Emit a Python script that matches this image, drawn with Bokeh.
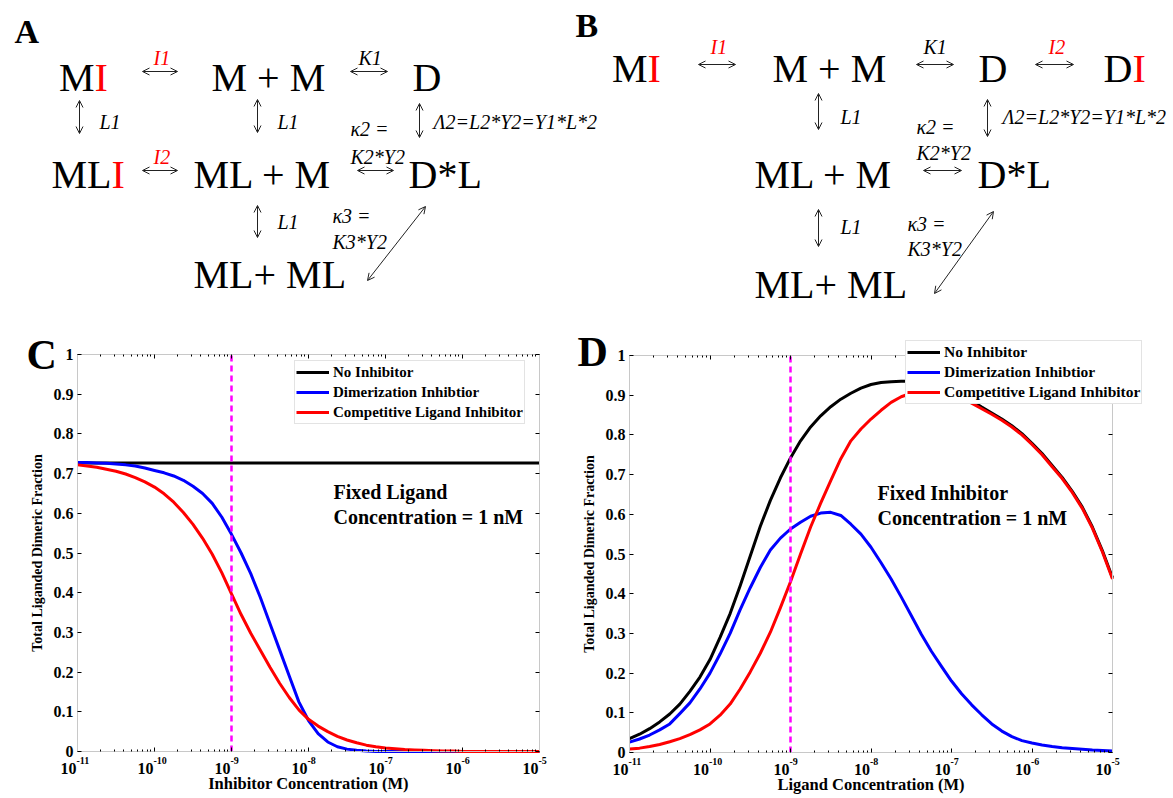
from bokeh.plotting import figure
from bokeh.models import (Range1d, Arrow, OpenHead, Label, Legend, LegendItem,
                          FixedTicker, LinearAxis, LogAxis)
from bokeh.layouts import column, row
from bokeh.core.properties import value
from bokeh.embed import file_html
from bokeh.resources import INLINE

FONT = "Liberation Serif"

# ---------------- data ----------------
EXPONENTS = [-11, -10.875, -10.75, -10.625, -10.5, -10.375, -10.25, -10.125,
             -10, -9.875, -9.75, -9.625, -9.5, -9.375, -9.25, -9.125,
             -9, -8.875, -8.75, -8.625, -8.5, -8.375, -8.25, -8.125,
             -8, -7.875, -7.75, -7.625, -7.5, -7.375, -7.25, -7.125,
             -7, -6.875, -6.75, -6.625, -6.5, -6.375, -6.25, -6.125,
             -6, -5.875, -5.75, -5.625, -5.5, -5.375, -5.25, -5.125, -5]

# Panel C: x = inhibitor concentration (M), fixed ligand 1 nM
C_NO_INHIB = [0.727, 0.727, 0.727, 0.727, 0.727, 0.727, 0.727, 0.727,
              0.727, 0.727, 0.727, 0.727, 0.727, 0.727, 0.727, 0.727,
              0.727, 0.727, 0.727, 0.727, 0.727, 0.727, 0.727, 0.727,
              0.727, 0.727, 0.727, 0.727, 0.727, 0.727, 0.727, 0.727,
              0.727, 0.727, 0.727, 0.727, 0.727, 0.727, 0.727, 0.727,
              0.727, 0.727, 0.727, 0.727, 0.727, 0.727, 0.727, 0.727, 0.727]
C_DIMER = [0.728, 0.728, 0.727, 0.726, 0.724, 0.722, 0.719, 0.714,
           0.708, 0.702, 0.694, 0.683, 0.668, 0.650, 0.625, 0.590,
           0.547, 0.500, 0.448, 0.388, 0.322, 0.256, 0.190, 0.125,
           0.078, 0.045, 0.024, 0.012, 0.006, 0.003, 0.001, 0.0,
           0.0, 0.0, 0.0, 0.0, 0.0, 0.0, 0.0, 0.0,
           0.0, 0.0, 0.0, 0.0, 0.0, 0.0, 0.0, 0.0, 0.0]
C_COMP = [0.722, 0.719, 0.716, 0.711, 0.706, 0.699, 0.690, 0.679,
          0.666, 0.649, 0.628, 0.602, 0.572, 0.537, 0.497, 0.450,
          0.397, 0.345, 0.298, 0.255, 0.212, 0.172, 0.136, 0.105,
          0.081, 0.064, 0.050, 0.038, 0.029, 0.022, 0.016, 0.012,
          0.009, 0.007, 0.005, 0.004, 0.003, 0.002, 0.001, 0.001,
          0.0, 0.0, 0.0, 0.0, 0.0, 0.0, 0.0, 0.0, 0.0]

# Panel D: x = ligand concentration (M), fixed inhibitor 1 nM
D_NO_INHIB = [0.035, 0.046, 0.060, 0.077, 0.097, 0.122, 0.154, 0.190,
              0.234, 0.290, 0.350, 0.420, 0.495, 0.570, 0.635, 0.692,
              0.742, 0.785, 0.820, 0.848, 0.871, 0.890, 0.905, 0.918,
              0.927, 0.932, 0.934, 0.935, 0.935, 0.934, 0.931, 0.926,
              0.918, 0.905, 0.886, 0.870, 0.855, 0.840, 0.823, 0.803,
              0.779, 0.753, 0.723, 0.693, 0.658, 0.618, 0.568, 0.508, 0.440]
D_DIMER = [0.026, 0.034, 0.044, 0.057, 0.072, 0.098, 0.125, 0.160,
           0.200, 0.248, 0.300, 0.360, 0.415, 0.466, 0.510, 0.540,
           0.563, 0.580, 0.595, 0.603, 0.605, 0.597, 0.575, 0.550,
           0.517, 0.478, 0.437, 0.392, 0.345, 0.298, 0.255, 0.217,
           0.180, 0.148, 0.120, 0.095, 0.072, 0.054, 0.040, 0.030,
           0.024, 0.019, 0.015, 0.012, 0.010, 0.008, 0.006, 0.005, 0.004]
D_COMP = [0.009, 0.011, 0.015, 0.020, 0.027, 0.035, 0.045, 0.057,
          0.072, 0.094, 0.122, 0.160, 0.203, 0.250, 0.303, 0.365,
          0.430, 0.500, 0.568, 0.628, 0.685, 0.740, 0.785, 0.815,
          0.840, 0.862, 0.882, 0.896, 0.905, 0.910, 0.912, 0.910,
          0.905, 0.895, 0.880, 0.866, 0.852, 0.837, 0.820, 0.800,
          0.776, 0.750, 0.720, 0.690, 0.655, 0.615, 0.565, 0.505, 0.437]

FIXED_CONC = 1e-9

SERIES_NAMES = ["No Inhibitor", "Dimerization Inhibtior", "Competitive Ligand Inhibitor"]
SERIES_COLORS = ["#000000", "#0000ff", "#ff0000"]

X_TICKS = [1e-11, 1e-10, 1e-9, 1e-8, 1e-7, 1e-6, 1e-5]
X_TICK_BASE = ["10", "10", "10", "10", "10", "10", "10"]
X_TICK_EXP = ["-11", "-10", "-9", "-8", "-7", "-6", "-5"]
Y_TICKS = [0.0, 0.1, 0.2, 0.3, 0.4, 0.5, 0.6, 0.7, 0.8, 0.9, 1.0]
Y_TICK_LABELS = ["0", "0.1", "0.2", "0.3", "0.4", "0.5", "0.6", "0.7", "0.8", "0.9", "1"]
X_LIMITS = (1e-11, 1e-5)
Y_LIMITS = (0.0, 1.0)

conc = [10 ** e for e in EXPONENTS]
minor = [m * t for t in X_TICKS[:-1] for m in range(2, 10)]

# ---------------- top diagram (panels A and B) ----------------
TOP_H = 318
PAGE_H = 798
top = figure(width=1173, height=TOP_H, x_range=Range1d(0, 1173), y_range=Range1d(TOP_H, 0),
             min_border=0, toolbar_location=None, output_backend="svg",
             x_axis_location=None, y_axis_location=None, outline_line_color=None)
top.grid.visible = False


def txt(p, x, base, s, size, color="black", style="normal", align="left"):
    # y given as the text baseline; drawn centred on the cap height
    p.text(x=[x], y=[base - 0.34 * size], text=[s], text_font=value(FONT),
           text_font_size=f"{size}px", text_font_style=style, text_color=color,
           text_align=align, text_baseline="middle")


BIG = 40
SMALL = 20
RED = "#ff0000"

txt(top, 14, 43, "A", 34, style="bold")
txt(top, 575, 37, "B", 34, style="bold")

for x, y, s in [(211, 91, "M + M"), (412, 91, "D"), (193, 188, "ML + M"), (408, 188, "D*L"),
                (193, 288, "ML+ ML"), (772, 82, "M + M"), (978, 82, "D"),
                (754, 188, "ML + M"), (977, 188, "D*L"), (754, 298, "ML+ ML")]:
    txt(top, x, y, s, BIG)

for xj, y, s in [(94, 91, "M"), (111, 188, "ML"), (647, 82, "M"), (1132, 82, "D")]:
    txt(top, xj, y, s, BIG, align="right")
    txt(top, xj, y, "I", BIG, color=RED, align="left")

for x, y, s in [(358, 64, "K1"), (99, 128, "L1"), (277, 128, "L1"), (350, 135, "\u03ba2 ="),
                (350, 163, "K2*Y2"), (277, 228, "L1"), (332, 222, "\u03ba3 ="), (332, 248, "K3*Y2"),
                (433, 128, "\u039b2=L2*Y2=Y1*L*2"),
                (923, 53, "K1"), (840, 123, "L1"), (1002, 123, "\u039b2=L2*Y2=Y1*L*2"),
                (916, 133, "\u03ba2 ="), (916, 159, "K2*Y2"), (840, 233, "L1"),
                (907, 230, "\u03ba3 ="), (907, 255, "K3*Y2")]:
    txt(top, x, y, s, SMALL, style="italic")

for x, y, s in [(153, 64, "I1"), (153, 163, "I2"), (710, 53, "I1"), (1048, 53, "I2")]:
    txt(top, x, y, s, SMALL, color=RED, style="italic")

ARROWS = [(142, 71, 177, 71), (350, 71, 387, 71), (142, 170, 177, 170), (357, 170, 393, 170),
          (79, 100, 79, 133), (257, 99, 257, 132), (419, 103, 419, 137), (257, 205, 257, 237),
          (367, 280, 425, 206),
          (698, 64, 735, 64), (916, 64, 953, 64), (1035, 64, 1073, 64), (923, 170, 961, 170),
          (818, 93, 818, 129), (987, 99, 987, 136), (818, 209, 818, 246),
          (934, 293, 993, 211)]
for x0, y0, x1, y1 in ARROWS:
    top.add_layout(Arrow(x_start=x0, y_start=y0, x_end=x1, y_end=y1, line_width=1,
                         line_color="#222222",
                         start=OpenHead(size=7, line_width=1, line_color="#222222"),
                         end=OpenHead(size=7, line_width=1, line_color="#222222")))


# ---------------- chart panels ----------------
GRAY = "#c8c8c8"


def style_axis(ax, labels=True):
    ax.axis_line_color = GRAY
    ax.major_tick_line_color = "black"
    ax.minor_tick_line_color = "black"
    ax.major_tick_in = 4
    ax.major_tick_out = 0
    ax.minor_tick_in = 2
    ax.minor_tick_out = 0
    ax.major_label_text_font = FONT
    ax.major_label_text_font_style = "bold"
    ax.major_label_text_font_size = "16px"
    ax.major_label_text_color = "black" if labels else None
    ax.axis_label_text_font = FONT
    ax.axis_label_text_font_style = "bold"
    ax.axis_label_text_color = "black"


def make_panel(fig_px, frame_px, series, xlabel, letter, letter_px, note, note_px, legend_px,
               legend_font):
    fx0, fx1, fy0, fy1 = fig_px           # figure extent on the page (px)
    left, right, topp, bottom = frame_px  # where the axes box sits (px)
    dec = (right - left) / 6.0
    unit = (bottom - topp) / 1.0

    def xd(px):
        return 10 ** (-11 + (px - left) / dec)

    def yd(py):
        return (bottom - py) / unit

    p = figure(width=fx1 - fx0, height=fy1 - fy0, x_axis_type="log",
               x_range=Range1d(xd(fx0), xd(fx1)), y_range=Range1d(yd(fy1), yd(fy0)),
               output_backend="svg", toolbar_location=None, min_border=0,
               x_axis_location=None, y_axis_location=None, outline_line_color=None)
    p.grid.visible = False

    xt = FixedTicker(ticks=X_TICKS, minor_ticks=minor)
    yt = FixedTicker(ticks=Y_TICKS, minor_ticks=[])

    bax = LogAxis(ticker=xt, fixed_location=Y_LIMITS[0], bounds=X_LIMITS)
    style_axis(bax, labels=False)
    bax.axis_label = xlabel
    bax.axis_label_text_font_size = "16.5px"
    bax.major_label_standoff = 5
    bax.axis_label_standoff = 22
    p.add_layout(bax, "below")

    tax = LogAxis(ticker=FixedTicker(ticks=X_TICKS, minor_ticks=minor),
                  fixed_location=Y_LIMITS[1], bounds=X_LIMITS)
    style_axis(tax, labels=False)
    p.add_layout(tax, "above")

    lax = LinearAxis(ticker=yt, fixed_location=X_LIMITS[0], bounds=Y_LIMITS)
    style_axis(lax)
    lax.major_label_overrides = dict(zip(Y_TICKS, Y_TICK_LABELS))
    lax.axis_label = "Total Liganded Dimeric Fraction"
    lax.axis_label_text_font_size = "14px"
    lax.major_label_standoff = 4
    lax.axis_label_standoff = 6
    p.add_layout(lax, "left")

    rax = LinearAxis(ticker=FixedTicker(ticks=Y_TICKS, minor_ticks=[]),
                     fixed_location=X_LIMITS[1], bounds=Y_LIMITS)
    style_axis(rax, labels=False)
    p.add_layout(rax, "right")

    # x tick labels: "10" with a raised exponent
    p.text(x=X_TICKS, y=[Y_LIMITS[0]] * len(X_TICKS), text=X_TICK_BASE, text_font=value(FONT),
           text_font_size="16px", text_font_style="bold", text_align="right",
           text_baseline="middle", x_offset=-1, y_offset=17, text_color="black")
    p.text(x=X_TICKS, y=[Y_LIMITS[0]] * len(X_TICKS), text=X_TICK_EXP, text_font=value(FONT),
           text_font_size="10px", text_font_style="bold", text_align="left",
           text_baseline="middle", x_offset=-1, y_offset=9, text_color="black")

    items = []
    for name, color, ys in zip(SERIES_NAMES, SERIES_COLORS, series):
        r = p.line(conc, ys, line_color=color, line_width=3, line_join="round")
        items.append(LegendItem(label=name, renderers=[r]))

    p.segment(x0=[FIXED_CONC], y0=[Y_LIMITS[0]], x1=[FIXED_CONC], y1=[Y_LIMITS[1]],
              line_color="#ff00ff", line_width=2.5, line_dash="6 4")

    lgx, lgb = legend_px
    leg = Legend(items=items, label_text_font=FONT, label_text_font_style="bold",
                 label_text_font_size=legend_font, label_text_color="black",
                 glyph_width=33, glyph_height=20,
                 label_height=20, spacing=0, padding=1, label_standoff=4,
                 border_line_color=GRAY, background_fill_color="white",
                 background_fill_alpha=1.0, margin=0,
                 location=(lgx - fx0, fy1 - lgb))
    p.add_layout(leg, "center")

    lx, ly = letter_px
    p.add_layout(Label(x=xd(lx), y=yd(ly), text=letter, text_font=FONT, text_font_style="bold",
                       text_font_size="42px", text_baseline="middle", text_color="black"))
    nx, ny1, ny2 = note_px
    p.add_layout(Label(x=xd(nx), y=yd(ny1), text=note, text_font=FONT, text_font_style="bold",
                       text_font_size="20px", text_baseline="middle", text_color="black"))
    p.add_layout(Label(x=xd(nx), y=yd(ny2), text="Concentration = 1 nM", text_font=FONT,
                       text_font_style="bold", text_font_size="20px",
                       text_baseline="middle", text_color="black"))
    return p


figC = make_panel((0, 570, TOP_H, PAGE_H), (77, 539, 354, 751), [C_NO_INHIB, C_DIMER, C_COMP],
                  "Inhibitor Concentration (M)", "C", (26, 354),
                  "Fixed Ligand", (333, 491, 516), (294, 424), "15px")
figD = make_panel((570, 1173, TOP_H, PAGE_H), (629, 1112, 355, 752), [D_NO_INHIB, D_DIMER, D_COMP],
                  "Ligand Concentration (M)", "D", (577, 351),
                  "Fixed Inhibitor", (877, 492, 517), (905, 404), "15.5px")

layout = column(top, row(figC, figD))
open("out.html", "w").write(file_html(layout, INLINE))
